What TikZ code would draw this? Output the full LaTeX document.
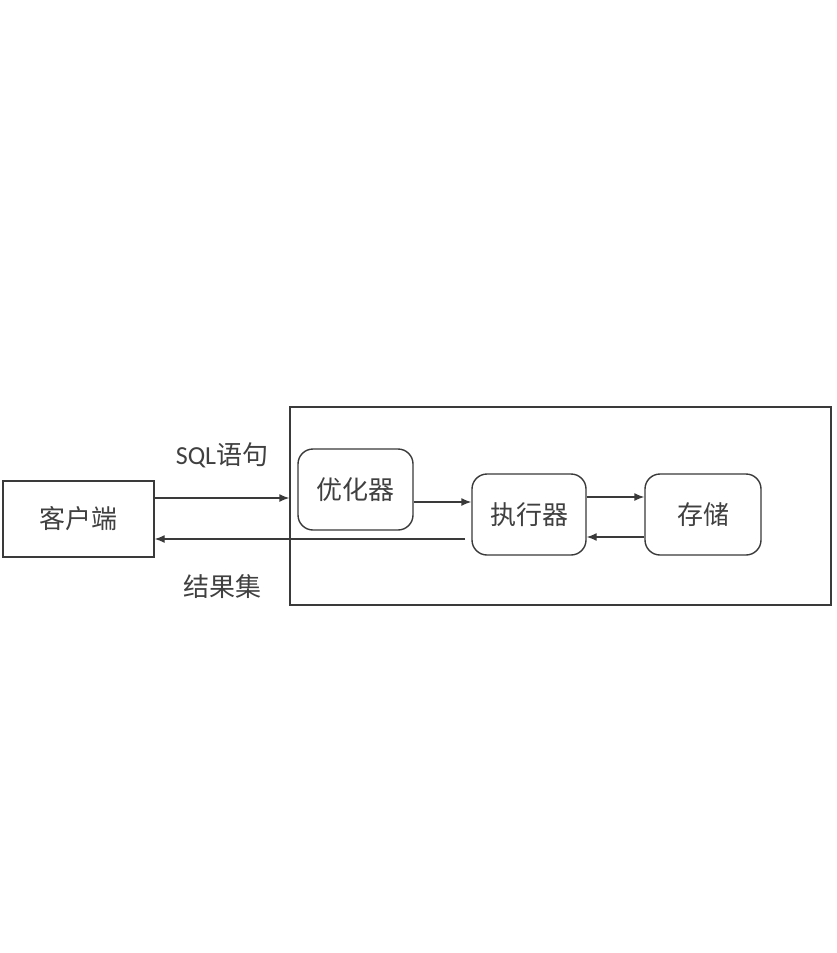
\documentclass[tikz,border=0pt]{standalone}
\usepackage{fontspec}
\setmainfont{Carlito}
\newfontfamily\cjk{Noto Sans CJK SC}
\usetikzlibrary{arrows.meta}
\definecolor{ln}{HTML}{3A3A3A}
\definecolor{tx}{HTML}{404040}
\begin{document}
\begin{tikzpicture}[x=1pt,y=-1pt,
  box/.style={draw=ln,line width=1.4pt,rectangle,inner sep=0pt,text=tx,font=\cjk\fontsize{26}{30}\selectfont},
  rbox/.style={box,rounded corners=15pt},
  arr/.style={draw=ln,line width=1.4pt,-{Latex[length=10pt,width=8pt]}},
  lbl/.style={text=tx,inner sep=0pt}]
\useasboundingbox (0,0) rectangle (837,953);
\fill[white] (0,0) rectangle (837,953);
\node[box,minimum width=541pt,minimum height=198pt] (outer) at (560.5,506) {};
\node[box,minimum width=151pt,minimum height=76pt] (client) at (78.5,519) {客户端};
\node[rbox,minimum width=115pt,minimum height=81pt] (opt) at (355.5,489.5) {优化器};
\node[rbox,minimum width=114pt,minimum height=81pt] (exec) at (529,514.5) {执行器};
\node[rbox,minimum width=116pt,minimum height=81pt] (stor) at (703,514.5) {存储};
\coordinate (retstart) at (465,539);
\draw[arr] (client.east |- 0,498) -- (outer.west |- 0,498);
\draw[arr] (retstart) -- (client.east |- retstart);
\draw[arr] (opt.east |- 0,502) -- (exec.west |- 0,502);
\draw[arr] (exec.east |- 0,497) -- (stor.west |- 0,497);
\draw[arr] (stor.west |- 0,537) -- (exec.east |- 0,537);
\node[lbl,font=\fontsize{26}{30}\selectfont] (sql) at (222,455) {SQL{\cjk 语句}};
\node[lbl,font=\cjk\fontsize{26}{30}\selectfont] (res) at (222,587) {结果集};
\end{tikzpicture}
\end{document}
